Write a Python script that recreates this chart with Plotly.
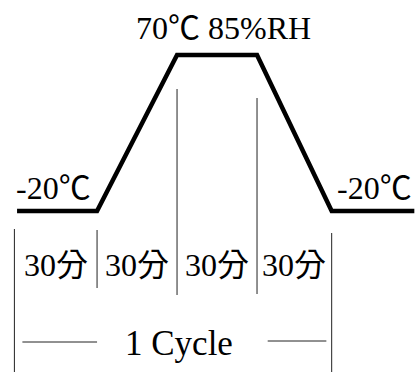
import plotly.graph_objects as go

# temperature profile of one test cycle (minutes, deg C)
times = [-30, 0, 30, 60, 88, 119]
temps = [-20, -20, 70, 70, -20, -20]

# stage boundaries (minutes) and labels under the profile
stage_edges = [-31, 0, 30, 60, 88]
stage_labels = ["30分", "30分", "30分", "30分"]

DEG = "<span style='font-family:Noto Sans CJK TC'>℃</span>"
top_label = "70" + DEG + " 85%RH"
low_label = "-20" + DEG
cycle_label = "1 Cycle"

W, H = 417, 372
FONT = "Liberation Serif, Noto Sans CJK TC, serif"


def py(p):
    # pixel row -> paper y
    return 1 - p / H


fig = go.Figure()
fig.add_trace(go.Scatter(x=times, y=temps, mode="lines",
                         line=dict(color="black", width=4.5),
                         hoverinfo="skip", showlegend=False))

line_style = dict(color="#222222", width=1)
# dividers: (edge index, top px, bottom px)
dividers = [(0, 229, 372), (1, 230, 288), (2, 89, 295), (3, 98, 294), (4, 233, 372)]
for i, top, bot in dividers:
    fig.add_shape(type="line", xref="x", yref="paper",
                  x0=stage_edges[i], x1=stage_edges[i], y0=py(bot), y1=py(top),
                  line=line_style)

# cycle bracket lines
fig.add_shape(type="line", xref="x", yref="paper", x0=-28, x1=0,
              y0=py(342), y1=py(342), line=line_style)
fig.add_shape(type="line", xref="x", yref="paper", x0=64, x1=86,
              y0=py(341), y1=py(341), line=line_style)

txt = dict(family=FONT, size=32, color="black")
ann = dict(xref="x", yref="paper", showarrow=False, font=txt,
           xanchor="center", yanchor="middle")
fig.add_annotation(x=47.4, y=py(25), text=top_label, **ann)
fig.add_annotation(x=-16.3, y=py(185), text=low_label, **ann)
fig.add_annotation(x=103.9, y=py(185), text=low_label, **ann)
for k, lab in enumerate(stage_labels):
    cx = (stage_edges[k] + stage_edges[k + 1]) / 2
    fig.add_annotation(x=cx, y=py(265), text=lab, **ann)
fig.add_annotation(x=30.7, y=py(343), text=cycle_label,
                   **{**ann, "font": dict(family=FONT, size=35, color="black")})

fig.update_layout(
    width=W, height=H,
    margin=dict(l=0, r=0, t=0, b=0),
    paper_bgcolor="white", plot_bgcolor="white",
    xaxis=dict(range=[-36.4, 120], visible=False, fixedrange=True),
    yaxis=dict(range=[-112.9, 101.7], visible=False, fixedrange=True),
)

fig.write_html("out.html", config={"displayModeBar": False},
               post_script="document.body.style.margin='0';")
